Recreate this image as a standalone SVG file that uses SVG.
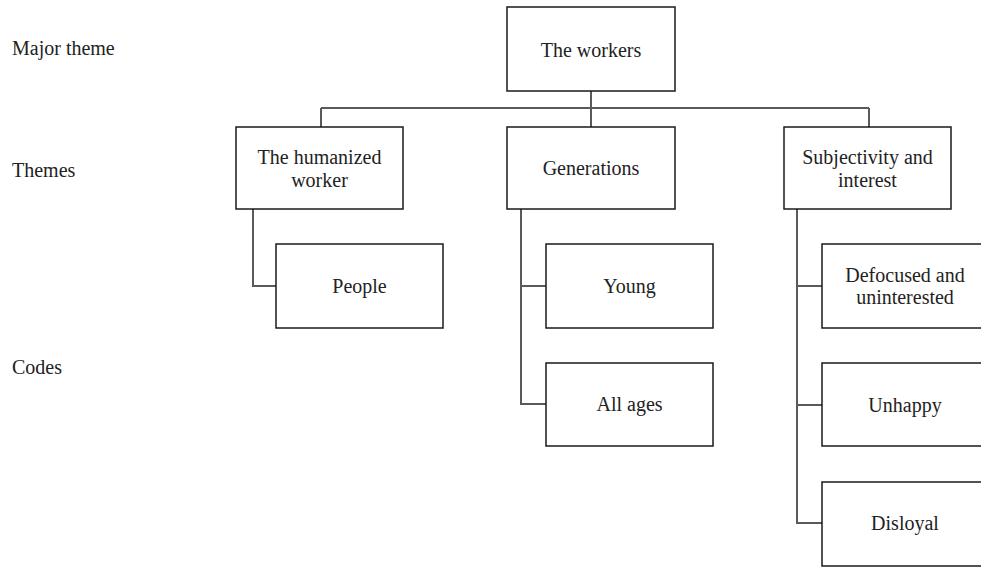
<svg xmlns="http://www.w3.org/2000/svg" width="981" height="567" viewBox="0 0 981 567">
<style>
.box{fill:#fff;stroke:#1a1a1a;stroke-width:1.5}
.conn{fill:none;stroke:#5a5a5a;stroke-width:2}
.t{font-family:'Liberation Serif','DejaVu Serif','Times New Roman',Times,serif;font-size:20px;fill:#222}
.c{text-anchor:middle}
</style>
<rect width="981" height="567" fill="#fff"/>
<g id="levels" class="t">
<text x="12" y="55">Major theme</text>
<text x="12" y="177">Themes</text>
<text x="12" y="374">Codes</text>
</g>
<g id="connectors">
<path class="conn" d="M591 91V127M321 108H869M321 108V127M869 108V127"/>
<path class="conn" d="M253 209V286H276"/>
<path class="conn" d="M521 209V404H546M521 286H546"/>
<path class="conn" d="M797 209V523H822M797 286H822M797 405H822"/>
</g>
<g class="t">
<g id="n-workers"><rect class="box" x="507" y="7" width="168" height="84"/><text class="c" x="591" y="57">The workers</text></g>
<g id="n-humanized"><rect class="box" x="236" y="127" width="167" height="82"/><text class="c" x="319.5" y="164">The humanized</text><text class="c" x="319.5" y="187">worker</text></g>
<g id="n-generations"><rect class="box" x="507" y="127" width="168" height="82"/><text class="c" x="591" y="175">Generations</text></g>
<g id="n-subjectivity"><rect class="box" x="784" y="127" width="167" height="82"/><text class="c" x="867.5" y="164">Subjectivity and</text><text class="c" x="867.5" y="187">interest</text></g>
<g id="n-people"><rect class="box" x="276" y="244" width="167" height="84"/><text class="c" x="359.5" y="293">People</text></g>
<g id="n-young"><rect class="box" x="546" y="244" width="167" height="84"/><text class="c" x="629.5" y="293">Young</text></g>
<g id="n-allages"><rect class="box" x="546" y="363" width="167" height="83"/><text class="c" x="629.5" y="411">All ages</text></g>
<g id="n-defocused"><rect class="box" x="822" y="244" width="167" height="84"/><text class="c" x="905" y="282">Defocused and</text><text class="c" x="905" y="304">uninterested</text></g>
<g id="n-unhappy"><rect class="box" x="822" y="363" width="167" height="83"/><text class="c" x="905" y="412">Unhappy</text></g>
<g id="n-disloyal"><rect class="box" x="822" y="482" width="167" height="84"/><text class="c" x="905" y="530">Disloyal</text></g>
</g>
</svg>
